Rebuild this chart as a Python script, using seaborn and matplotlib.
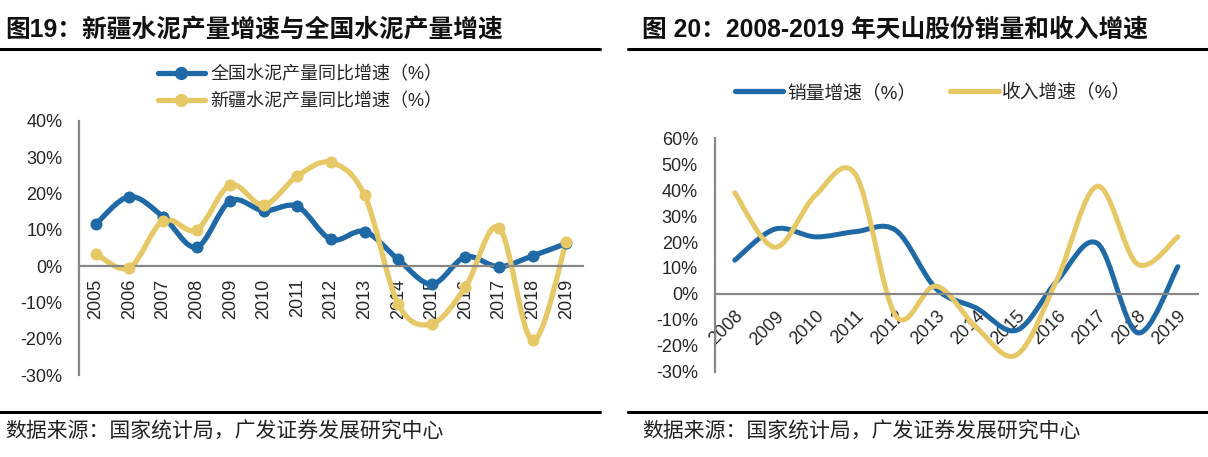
import numpy as np
import pandas as pd
import matplotlib
matplotlib.use('Agg')
import matplotlib.pyplot as plt
import seaborn as sns
from matplotlib.path import Path
from matplotlib.patches import PathPatch
from matplotlib.lines import Line2D

# data: left chart (cement output growth, %)
years_l = [str(y) for y in range(2005, 2020)]
national = [11.5, 19.1, 13.6, 5.2, 17.9, 15.2, 16.4, 7.3, 9.5, 1.8, -5.0, 2.5, -0.2, 2.8, 6.2]
xinjiang = [3.4, -0.5, 12.5, 10.0, 22.3, 16.8, 24.8, 28.5, 19.5, -10.5, -15.9, -5.8, 10.6, -20.5, 6.5]
legend_l = ['全国水泥产量同比增速（%）', '新疆水泥产量同比增速（%）']

# data: right chart (Tianshan sales / revenue growth, %)
years_r = [str(y) for y in range(2008, 2020)]
sales = [13.0, 25.0, 22.0, 24.0, 24.5, 2.0, -5.5, -14.0, 5.0, 19.5, -15.0, 10.5]
revenue = [39.0, 18.0, 38.0, 46.0, -8.5, 3.0, -13.0, -23.5, 5.5, 41.5, 11.5, 22.0]
legend_r = ['销量增速（%）', '收入增速（%）']

BLUE = '#1f69a6'
YELLOW = '#e6c866'
GREY = '#878787'

sns.set_theme(style='white')
plt.rcParams['font.family'] = ['Liberation Sans', 'Noto Sans CJK SC']
plt.rcParams['axes.unicode_minus'] = False

W, H = 1208, 457
fig = plt.figure(figsize=(W / 100, H / 100), dpi=100)


def px_axes(x0, x1, ytop, ybot):
    return fig.add_axes([x0 / W, 1 - ybot / H, (x1 - x0) / W, (ybot - ytop) / H])


def smooth_path(y):
    # Excel-like smoothed line: cubic bezier through the points
    pts = np.column_stack([np.arange(len(y)), np.asarray(y, float)])
    n = len(pts)
    verts, codes = [pts[0]], [Path.MOVETO]
    for i in range(n - 1):
        p0 = pts[max(i - 1, 0)]
        p1 = pts[i]
        p2 = pts[i + 1]
        p3 = pts[min(i + 2, n - 1)]
        verts += [p1 + (p2 - p0) / 6, p2 - (p3 - p1) / 6, p2]
        codes += [Path.CURVE4] * 3
    return Path(verts, codes)


def style_axes(ax, n, yticks):
    ax.set_xlim(-0.5, n - 0.5)
    ax.set_ylim(yticks[0], yticks[-1])
    ax.set_yticks(yticks)
    ax.set_yticklabels([f'{v}%' for v in yticks])
    for s in ['top', 'right']:
        ax.spines[s].set_visible(False)
    for s in ['left', 'bottom']:
        ax.spines[s].set_color(GREY)
        ax.spines[s].set_linewidth(1.6)
    ax.spines['bottom'].set_position(('data', 0))
    ax.set_xticks(np.arange(n + 1) - 0.5, minor=True)
    ax.tick_params(axis='x', which='minor', length=5, width=1.5, color=GREY, direction='out')
    ax.tick_params(axis='y', length=4, width=1.5, color=GREY, direction='out', labelsize=13, pad=8)
    ax.set_facecolor('none')
    ax.grid(False)


# ---------- left chart ----------
ax1 = px_axes(79, 583, 120.7, 375)
n1 = len(years_l)
for vals, col in [(national, BLUE), (xinjiang, YELLOW)]:
    ax1.add_patch(PathPatch(smooth_path(vals), fill=False, edgecolor=col, lw=3.8,
                            capstyle='round', joinstyle='round'))
    df = pd.DataFrame({'x': np.arange(n1), 'y': vals})
    sns.scatterplot(data=df, x='x', y='y', ax=ax1, color=col, s=75, linewidth=0, zorder=3)
style_axes(ax1, n1, [-30, -20, -10, 0, 10, 20, 30, 40])
ax1.set_xticks(np.arange(n1))
ax1.set_xticklabels(years_l, rotation=90, fontsize=13)
ax1.tick_params(axis='x', which='major', length=0, pad=9)
ax1.set_xlabel('')
ax1.set_ylabel('')
h1 = [Line2D([], [], color=BLUE, lw=3.8, marker='o', markersize=8.5),
      Line2D([], [], color=YELLOW, lw=3.8, marker='o', markersize=8.5)]
fig.legend(h1, legend_l, loc='center', bbox_to_anchor=(300 / W, 1 - 88 / H), ncol=1,
           frameon=False, fontsize=13, handlelength=2.6, handletextpad=0.3, labelspacing=0.5)

# ---------- right chart ----------
ax2 = px_axes(714.6, 1198, 138.3, 371.7)
n2 = len(years_r)
for vals, col in [(sales, BLUE), (revenue, YELLOW)]:
    ax2.add_patch(PathPatch(smooth_path(vals), fill=False, edgecolor=col, lw=3.6,
                            capstyle='round', joinstyle='round'))
style_axes(ax2, n2, [-30, -20, -10, 0, 10, 20, 30, 40, 50, 60])
ax2.set_xticks(np.arange(n2))
ax2.set_xticklabels(years_r, rotation=45, ha='right', va='top', rotation_mode='anchor', fontsize=13)
ax2.tick_params(axis='x', which='major', length=0, pad=10)
h2 = [Line2D([], [], color=BLUE, lw=3.8), Line2D([], [], color=YELLOW, lw=3.8)]
fig.legend(h2, legend_r, loc='center', bbox_to_anchor=(933 / W, 1 - 93 / H), ncol=2,
           frameon=False, fontsize=13.5, handlelength=2.6, handletextpad=0.2, columnspacing=1.8)

# ---------- titles, rules, sources ----------
fig.text(5 / W, 1 - 30 / H, '图19：新疆水泥产量增速与全国水泥产量增速', fontsize=17.8,
         fontweight='bold', color='#111111', ha='left', va='center')
fig.text(642 / W, 1 - 30 / H, '图 20：2008-2019 年天山股份销量和收入增速', fontsize=17.8,
         fontweight='bold', color='#111111', ha='left', va='center')
for x0, x1 in [(0, 600), (628, 1208)]:
    for y in [49, 412]:
        fig.add_artist(Line2D([x0 / W, x1 / W], [1 - y / H, 1 - y / H], transform=fig.transFigure,
                              color='black', lw=2.2))
for x0 in [5, 642]:
    fig.text(x0 / W, 1 - 432 / H, '数据来源：国家统计局，广发证券发展研究中心', fontsize=15,
             color='#222222', ha='left', va='center')

fig.savefig('out.png', dpi=100)
